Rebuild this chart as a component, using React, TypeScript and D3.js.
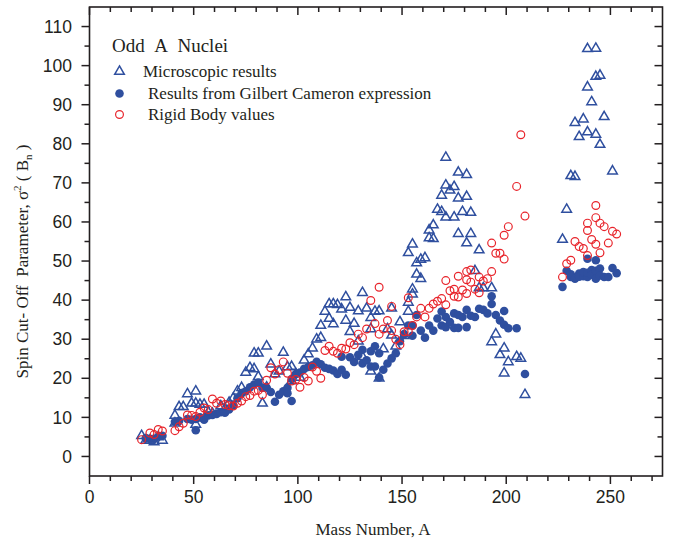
import React from "react";
import * as d3 from "d3";

// ---------- data ----------
const xTickValues = [0, 50, 100, 150, 200, 250];
const yTickValues = [0, 10, 20, 30, 40, 50, 60, 70, 80, 90, 100, 110];

// Microscopic results [A, sigma^2]
const microscopic: [number, number][] = [
  [25, 5.3], [27, 4.1], [29, 4.1], [31, 3.7], [33, 5.0], [35, 4.1],
  [41, 10.5], [41, 8.5], [43, 12.7], [45, 12.7], [47, 16.0], [49, 13.6], [51, 16.7], [51, 13.6], [51, 8.2],
  [53, 13.3], [55, 13.3], [57, 11.3], [59, 11.0], [63, 12.9], [65, 12.2], [67, 13.8], [69, 14.9], [71, 16.7],
  [73, 17.6], [75, 21.5], [77, 22.7], [79, 26.4], [79, 22.4], [81, 26.4], [81, 20.4], [83, 13.6], [85, 28.2],
  [85, 17.7], [87, 23.6], [89, 21.1], [91, 21.8], [93, 26.6], [95, 22.9], [97, 23.0], [97, 19.3], [99, 21.1],
  [101, 20.2], [103, 24.6], [105, 26.2], [107, 27.7], [109, 30.0], [111, 30.4], [111, 33.5], [113, 37.1],
  [115, 39.0], [115, 35.3], [117, 39.0], [117, 33.9], [119, 38.8], [121, 37.7], [123, 40.8], [123, 34.8],
  [125, 38.1], [125, 31.9], [127, 34.0], [129, 37.2], [129, 29.5], [131, 41.9], [131, 25.5], [133, 37.9],
  [135, 35.5], [135, 32.6], [135, 21.8], [137, 37.1], [139, 37.2], [139, 20.0], [141, 27.5], [143, 32.6],
  [145, 37.9], [145, 31.0], [147, 28.2], [149, 34.4], [151, 30.9], [153, 37.1], [153, 39.4], [153, 52.1],
  [155, 54.3], [155, 42.8], [155, 41.5], [157, 49.5], [157, 46.6], [159, 45.5], [159, 50.4], [161, 50.8],
  [163, 57.9], [163, 55.9], [165, 59.2], [165, 55.7], [167, 63.2], [169, 62.6], [169, 66.8], [171, 69.4],
  [171, 61.2], [171, 76.5], [173, 68.1], [175, 69.0], [175, 61.2], [177, 72.7], [177, 66.1], [177, 57.0],
  [179, 62.6], [181, 72.1], [181, 66.5], [181, 54.6], [183, 62.4], [183, 57.0], [185, 47.5], [187, 52.8],
  [187, 43.1], [189, 43.1], [193, 43.1], [193, 29.3], [195, 31.3], [197, 26.0], [199, 27.7], [199, 21.3],
  [201, 24.2], [205, 25.5], [207, 25.1], [209, 15.8],
  [227, 55.5], [229, 63.2], [231, 71.8], [233, 71.6], [233, 85.4], [235, 81.8], [237, 86.3], [239, 94.5],
  [239, 83.0], [239, 104.3], [241, 90.7], [243, 104.4], [243, 97.2], [243, 82.4], [245, 97.5], [245, 79.8],
  [247, 86.9], [251, 73.0],
];

// Results from Gilbert Cameron expression [A, sigma^2]
const gilbertCameron: [number, number][] = [
  [27, 4.7], [29, 4.5], [31, 4.5], [33, 5.1], [35, 5.3],
  [41, 8.9], [43, 9.1], [47, 9.6], [49, 9.4], [51, 6.7], [51, 9.6], [53, 10.0], [55, 9.4], [57, 10.5],
  [59, 10.6], [61, 10.9], [63, 11.3], [65, 11.2], [67, 12.0], [69, 13.1], [71, 14.9], [73, 16.2], [75, 16.7],
  [77, 17.7], [79, 18.4], [81, 18.9], [83, 17.6], [85, 17.6], [87, 16.5], [89, 14.0], [91, 15.8], [93, 16.7],
  [95, 17.6], [95, 16.2], [97, 14.2], [97, 19.8], [99, 21.1], [101, 21.5], [103, 22.4], [105, 22.9],
  [107, 23.3], [109, 24.2], [111, 23.6], [113, 22.7], [115, 22.4], [117, 22.0], [119, 21.1], [121, 22.2],
  [123, 20.9], [121, 25.5], [125, 25.4], [127, 24.2], [129, 26.0], [131, 27.3], [131, 23.8], [133, 24.6],
  [135, 26.9], [135, 23.0], [137, 28.2], [137, 23.0], [139, 26.4], [139, 20.2], [141, 22.2], [143, 23.8],
  [145, 25.1], [147, 26.4], [149, 29.5], [151, 31.3], [153, 33.5], [155, 30.9], [155, 33.5], [157, 36.2],
  [159, 32.2], [161, 30.4], [163, 33.5], [165, 32.2], [167, 35.3], [169, 37.1], [169, 33.5], [171, 33.1],
  [171, 35.7], [173, 34.4], [175, 36.6], [175, 32.9], [177, 36.2], [177, 32.9], [179, 35.7], [181, 37.5],
  [181, 33.1], [183, 36.0], [185, 35.7], [187, 37.8], [189, 37.5], [191, 36.6], [193, 39.0], [193, 41.0],
  [195, 36.2], [197, 34.8], [199, 37.2], [199, 33.7], [201, 32.8], [205, 32.8], [209, 21.1],
  [227, 43.4], [229, 47.5], [231, 45.9], [231, 46.6], [233, 45.5], [235, 46.8], [235, 46.0], [237, 46.1],
  [237, 47.2], [239, 50.6], [239, 45.9], [239, 47.0], [241, 47.7], [241, 46.5], [243, 50.2], [243, 45.5],
  [243, 47.5], [245, 48.1], [245, 46.3], [247, 45.9], [249, 45.9], [251, 48.2], [253, 46.9],
];

// Rigid Body values [A, sigma^2]
const rigidBody: [number, number][] = [
  [25, 4.3], [29, 6.0], [31, 5.6], [33, 6.9], [35, 6.5],
  [41, 6.6], [43, 7.6], [45, 8.5], [47, 10.6], [49, 10.5], [51, 10.2], [53, 11.3], [55, 12.4], [57, 12.0],
  [59, 14.7], [61, 13.6], [63, 14.2], [65, 13.3], [67, 13.0], [69, 12.9], [71, 13.6], [73, 14.2], [75, 15.3],
  [77, 15.6], [79, 16.7], [81, 16.9], [83, 15.8], [85, 19.5], [87, 22.7], [89, 21.1], [91, 22.2], [93, 24.2],
  [95, 21.3], [97, 19.3], [99, 19.7], [101, 17.7], [103, 20.2], [105, 19.3], [107, 22.9], [109, 21.8],
  [111, 20.0], [113, 27.1], [115, 28.2], [117, 26.9], [119, 26.4], [121, 27.7], [123, 27.5], [125, 29.1],
  [127, 28.6], [129, 31.3], [131, 30.4], [133, 32.6], [135, 39.9], [137, 34.0], [139, 43.3], [139, 31.3],
  [141, 32.6], [143, 34.8], [145, 38.4], [145, 32.2], [147, 30.0], [149, 28.6], [151, 31.9], [153, 40.6],
  [153, 32.0], [155, 33.5], [157, 35.7], [159, 37.9], [161, 35.7], [163, 37.9], [165, 39.0], [167, 39.7],
  [169, 40.4], [171, 38.8], [171, 45.0], [173, 42.4], [175, 42.8], [175, 41.0], [177, 46.1], [177, 40.8],
  [179, 42.6], [181, 47.3], [181, 45.2], [181, 41.7], [183, 47.7], [183, 44.6], [185, 42.8], [187, 45.9],
  [187, 41.9], [189, 44.9], [191, 45.5], [193, 47.3], [193, 54.6], [195, 52.0], [197, 52.0], [199, 50.5],
  [199, 56.6], [201, 58.8], [205, 69.1], [207, 82.3], [209, 61.5],
  [227, 45.9], [229, 49.3], [231, 50.2], [233, 55.0], [235, 53.7], [237, 53.2], [239, 59.7], [239, 57.8],
  [239, 51.4], [241, 55.5], [243, 64.2], [243, 61.1], [243, 54.3], [245, 59.7], [245, 52.1], [247, 58.8],
  [249, 54.6], [251, 57.6], [253, 56.9],
];

// ---------- styling ----------
const BLUE = "#2f4f9f";
const RED = "#e8242b";
const AXIS = "#231f20";
const SERIF = "'Liberation Serif', 'Times New Roman', serif";
const SANS = "'Liberation Sans', Arial, sans-serif";

export default function App() {
  const W = 675;
  const H = 542;
  const x = d3.scaleLinear().domain([0, 275]).range([89.5, 662.5]);
  const y = d3.scaleLinear().domain([-5, 115]).range([476, 7]);
  const [x0, x1] = x.range();
  const [y0, y1] = y.range();

  const triPath = d3.symbol(d3.symbolTriangle, 40)()!;

  const xMinor = d3.range(10, 275, 10).filter((v) => v % 50 !== 0);
  const yMinor = d3.range(-5, 115, 5).filter((v) => v % 10 !== 0 && v > -5);

  return (
    <svg width={W} height={H} style={{ position: "absolute", left: 0, top: 0, background: "#fff" }}>
      <rect x={0} y={0} width={W} height={H} fill="#fff" />
      {/* frame */}
      <rect x={x0} y={y1} width={x1 - x0} height={y0 - y1} fill="none" stroke={AXIS} strokeWidth={1.6} />

      {/* bottom axis ticks (outward) & top (inward) */}
      {xTickValues.map((v) => (
        <g key={"xt" + v}>
          <line x1={x(v)} x2={x(v)} y1={y0} y2={y0 + 8} stroke={AXIS} strokeWidth={1.5} />
          <line x1={x(v)} x2={x(v)} y1={y1} y2={y1 + 8} stroke={AXIS} strokeWidth={1.5} />
          <text x={x(v)} y={503} textAnchor="middle" fontFamily={SANS} fontSize={17.5} fill={AXIS}>
            {v}
          </text>
        </g>
      ))}
      {xMinor.map((v) => (
        <g key={"xm" + v}>
          <line x1={x(v)} x2={x(v)} y1={y0} y2={y0 + 5} stroke={AXIS} strokeWidth={1.5} />
          <line x1={x(v)} x2={x(v)} y1={y1} y2={y1 + 5} stroke={AXIS} strokeWidth={1.5} />
        </g>
      ))}

      {/* left axis ticks (outward) & right (inward) */}
      {yTickValues.map((v) => (
        <g key={"yt" + v}>
          <line x1={x0 - 8} x2={x0} y1={y(v)} y2={y(v)} stroke={AXIS} strokeWidth={1.5} />
          <line x1={x1 - 8} x2={x1} y1={y(v)} y2={y(v)} stroke={AXIS} strokeWidth={1.5} />
          <text x={72} y={y(v)} dy="0.35em" textAnchor="end" fontFamily={SANS} fontSize={17.5} fill={AXIS}>
            {v}
          </text>
        </g>
      ))}
      {yMinor.map((v) => (
        <g key={"ym" + v}>
          <line x1={x0 - 5} x2={x0} y1={y(v)} y2={y(v)} stroke={AXIS} strokeWidth={1.5} />
          <line x1={x1 - 5} x2={x1} y1={y(v)} y2={y(v)} stroke={AXIS} strokeWidth={1.5} />
        </g>
      ))}

      {/* axis titles */}
      <text x={(x0 + x1) / 2 - 3} y={535} textAnchor="middle" fontFamily={SERIF} fontSize={17} fill={AXIS}>
        Mass Number, A
      </text>
      <text
        transform={`translate(28, ${(y0 + y1) / 2 + 20}) rotate(-90)`}
        textAnchor="middle"
        fontFamily={SERIF}
        fontSize={17}
        fill={AXIS}
      >
        Spin Cut- Off{"\u00a0\u00a0"}Parameter, σ
        <tspan dy={-7} fontSize={11}>2</tspan>
        <tspan dy={7}>{"\u00a0"}( B</tspan>
        <tspan dy={4} fontSize={11}>n</tspan>
        <tspan dy={-4}>{"\u00a0"})</tspan>
      </text>

      {/* data */}
      <g>
        {gilbertCameron.map(([a, v], i) => (
          <circle key={"g" + i} cx={x(a)} cy={y(v)} r={4.3} fill={BLUE} />
        ))}
      </g>
      <g>
        {microscopic.map(([a, v], i) => (
          <path
            key={"m" + i}
            d={triPath}
            transform={`translate(${x(a)},${y(v)})`}
            fill="none"
            stroke={BLUE}
            strokeWidth={1.5}
          />
        ))}
      </g>
      <g>
        {rigidBody.map(([a, v], i) => (
          <circle key={"r" + i} cx={x(a)} cy={y(v)} r={3.9} fill="none" stroke={RED} strokeWidth={1.2} />
        ))}
      </g>

      {/* legend */}
      <text x={112} y={52} fontFamily={SERIF} fontSize={19} fill={AXIS}>
        Odd{"\u00a0\u00a0"}A{"\u00a0\u00a0"}Nuclei
      </text>
      <path d={triPath} transform="translate(119.5,71.5)" fill="none" stroke={BLUE} strokeWidth={1.5} />
      <text x={143} y={77} fontFamily={SERIF} fontSize={17} fill={AXIS}>
        Microscopic results
      </text>
      <circle cx={119.5} cy={93.5} r={4.3} fill={BLUE} />
      <text x={148} y={99} fontFamily={SERIF} fontSize={17} fill={AXIS}>
        Results from Gilbert Cameron expression
      </text>
      <circle cx={119.5} cy={114.5} r={3.9} fill="none" stroke={RED} strokeWidth={1.2} />
      <text x={148} y={120} fontFamily={SERIF} fontSize={17} fill={AXIS}>
        Rigid Body values
      </text>
    </svg>
  );
}
